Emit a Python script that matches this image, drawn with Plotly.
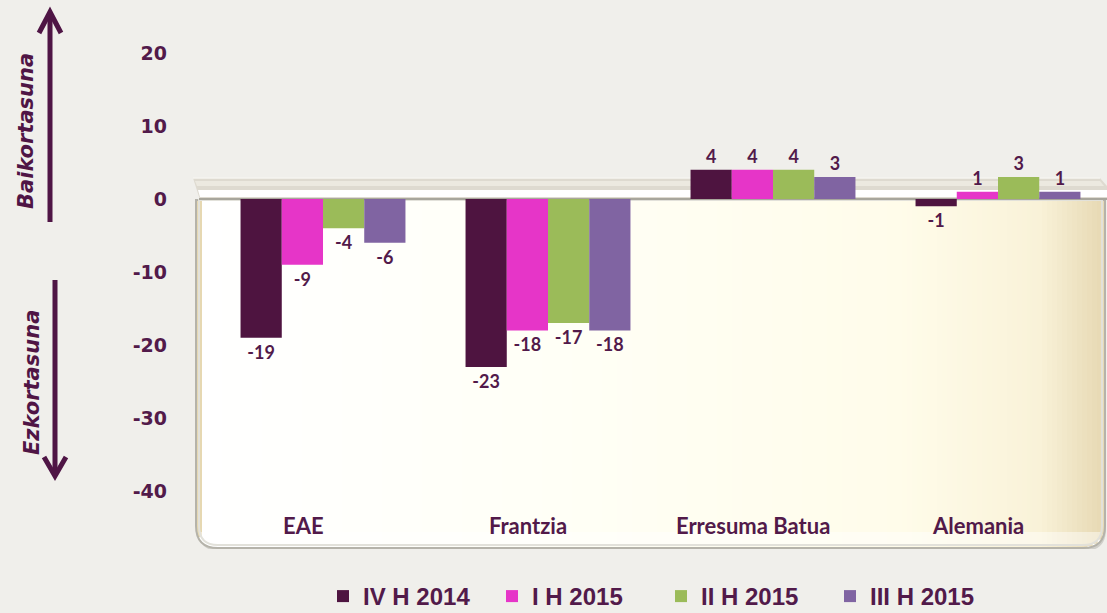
import math
import plotly.graph_objects as go

categories = ["EAE", "Frantzia", "Erresuma Batua", "Alemania"]
series_names = ["IV H 2014", "I H 2015", "II H 2015", "III H 2015"]
iv_h_2014 = [-19, -23, 4, -1]
i_h_2015 = [-9, -18, 4, 1]
ii_h_2015 = [-4, -17, 4, 3]
iii_h_2015 = [-6, -18, 3, 1]
series_values = [iv_h_2014, i_h_2015, ii_h_2015, iii_h_2015]
colors = ["#4e1440", "#e635c8", "#9bbb59", "#8064a2"]
y_ticks = [20, 10, 0, -10, -20, -30, -40]

W, H = 1107, 613
ML, MR, MT, MB = 188, 0, 9, 64
X0_PX, X_SCALE = 323.0, 225.0       # px of category 0, px per category
Y0_PX, Y_SCALE = 199.0, 7.3         # px of value 0, px per unit
x_range = [(ML - X0_PX) / X_SCALE, (W - MR - X0_PX) / X_SCALE]
y_range = [(Y0_PX - (H - MB)) / Y_SCALE, (Y0_PX - MT) / Y_SCALE]

TXT = "#521a4a"

def dx(px):
    return (px - X0_PX) / X_SCALE

def dy(py):
    return (Y0_PX - py) / Y_SCALE

def ppx(px):
    return (px - ML) / (W - ML - MR)

def ppy(py):
    return ((H - MB) - py) / (H - MT - MB)

fig = go.Figure()
xs = list(range(len(categories)))
for name, vals, col in zip(series_names, series_values, colors):
    fig.add_trace(go.Bar(
        x=xs, y=vals, name=name,
        marker=dict(color=col, line=dict(width=0)),
        text=[str(v) for v in vals], texttemplate="%{text}", textposition="outside",
        outsidetextfont=dict(family="Lato", size=18, color=TXT, weight="bold"),
        cliponaxis=False, hoverinfo="skip",
    ))

shapes = []
# wall box (rounded bottom corners)
L, R, T, B, r = 196, 1105, 200, 548, 22
def box_path(l, rr, t, b, rad):
    return (f"M {dx(l)} {dy(t)} L {dx(rr)} {dy(t)} L {dx(rr)} {dy(b - rad)} "
            f"Q {dx(rr)} {dy(b)} {dx(rr - rad)} {dy(b)} L {dx(l + rad)} {dy(b)} "
            f"Q {dx(l)} {dy(b)} {dx(l)} {dy(b - rad)} Z")
# soft shadow under the box
shapes.append(dict(type="path", path=box_path(L + 2, R + 1, T + 4, B + 3, r), xref="x", yref="y",
                   fillcolor="rgba(150,148,140,0.35)", line=dict(width=0), layer="below"))
shapes.append(dict(type="path", path=box_path(L, R, T, B, r), xref="x", yref="y",
                   fillcolor="#fffffd", line=dict(width=0), layer="below"))

# horizontal cream gradient, stripes clipped to rounded corners
def lerp(c1, c2, t):
    return tuple(int(round(a + (b - a) * t)) for a, b in zip(c1, c2))
stops = [(200, (255, 255, 255)), (560, (255, 255, 246)), (900, (255, 252, 234)),
         (1040, (249, 242, 216)), (1105, (230, 216, 178))]
def grad(px):
    for (p1, c1), (p2, c2) in zip(stops, stops[1:]):
        if p1 <= px <= p2:
            return lerp(c1, c2, (px - p1) / (p2 - p1))
    return stops[-1][1]
step = 5
px = L + 1
while px < R - 1:
    x1, x2 = px, min(px + step, R - 1)
    xm = (x1 + x2) / 2
    bot = B - 1
    if xm > R - r:
        d = xm - (R - r)
        bot = B - r + math.sqrt(max(r * r - d * d, 0)) - 1
    elif xm < L + r:
        d = (L + r) - xm
        bot = B - r + math.sqrt(max(r * r - d * d, 0)) - 1
    c = grad(xm)
    shapes.append(dict(type="rect", xref="x", yref="y", x0=dx(x1), x1=dx(x2 + 0.6),
                       y0=dy(T), y1=dy(bot), fillcolor=f"rgb{c}",
                       line=dict(width=0), layer="below"))
    px += step

# bottom inner highlight
shapes.append(dict(type="path", path=box_path(L + 3, R - 3, 532, B - 3, r - 4), xref="x", yref="y",
                   fillcolor="rgba(255,255,255,0.45)", line=dict(width=0), layer="below"))
# box outline
shapes.append(dict(type="path", path=box_path(L, R, T, B, r), xref="x", yref="y",
                   fillcolor="rgba(0,0,0,0)", line=dict(color="#b5b3aa", width=2), layer="below"))
shapes.append(dict(type="path", path=box_path(L + 3, R - 3, T, B - 3, r - 3), xref="x", yref="y",
                   fillcolor="rgba(0,0,0,0)", line=dict(color="#e2e1da", width=2), layer="below"))
# top bevel
shapes.append(dict(type="path", xref="x", yref="y",
                   path=f"M {dx(193)} {dy(178)} L {dx(1100)} {dy(178)} L {dx(1107)} {dy(186)} "
                        f"L {dx(1107)} {dy(200)} L {dx(200)} {dy(200)} Z",
                   fillcolor="#dedad0", line=dict(width=0), layer="below"))
shapes.append(dict(type="path", xref="x", yref="y",
                   path=f"M {dx(195)} {dy(181)} L {dx(1100)} {dy(181)} L {dx(1104)} {dy(186)} "
                        f"L {dx(197)} {dy(186)} Z",
                   fillcolor="#ece9e0", line=dict(width=0), layer="below"))
shapes.append(dict(type="path", xref="x", yref="y",
                   path=f"M {dx(198)} {dy(190)} L {dx(1107)} {dy(190)} L {dx(1107)} {dy(197)} "
                        f"L {dx(200)} {dy(197)} Z",
                   fillcolor="#ffffff", line=dict(width=0), layer="below"))
shapes.append(dict(type="line", xref="x", yref="y", x0=dx(199), x1=dx(1107), y0=dy(199), y1=dy(199),
                   line=dict(color="#a8a69c", width=2), layer="below"))
shapes.append(dict(type="line", xref="x", yref="y", x0=dx(193), x1=dx(1100), y0=dy(178), y1=dy(178),
                   line=dict(color="#f6f5f0", width=1.5), layer="below"))

# direction arrows (paper coords)
ARROW = "#4f1545"
def pline(pts):
    return "M " + " L ".join(f"{ppx(a)} {ppy(b)}" for a, b in pts)
shapes.append(dict(type="path", xref="paper", yref="paper", path=pline([(50, 222), (50, 14)]),
                   line=dict(color=ARROW, width=5)))
shapes.append(dict(type="path", xref="paper", yref="paper", path=pline([(39, 33), (50, 12), (61, 33)]),
                   line=dict(color=ARROW, width=5)))
shapes.append(dict(type="path", xref="paper", yref="paper", path=pline([(55, 280), (55, 474)]),
                   line=dict(color=ARROW, width=5)))
shapes.append(dict(type="path", xref="paper", yref="paper", path=pline([(44, 457), (55, 476), (66, 457)]),
                   line=dict(color=ARROW, width=5)))

annotations = []
for i, cat in enumerate(categories):
    annotations.append(dict(x=i, y=dy(525), xref="x", yref="y", text=cat, showarrow=False,
                            xanchor="center", yanchor="middle",
                            xshift=-20, font=dict(family="Lato", size=22, color=TXT, weight="bold")))
annotations.append(dict(x=ppx(26), y=ppy(131), xref="paper", yref="paper", text="<i>Baikortasuna</i>",
                        textangle=-90, showarrow=False, xanchor="center", yanchor="middle",
                        font=dict(family="DejaVu Sans", size=21, color=ARROW, weight="bold")))
annotations.append(dict(x=ppx(32), y=ppy(383), xref="paper", yref="paper", text="<i>Ezkortasuna</i>",
                        textangle=-90, showarrow=False, xanchor="center", yanchor="middle",
                        font=dict(family="DejaVu Sans", size=21, color=ARROW, weight="bold")))

fig.update_layout(
    width=W, height=H,
    margin=dict(l=ML, r=MR, t=MT, b=MB, autoexpand=False),
    paper_bgcolor="#f0efeb", plot_bgcolor="rgba(0,0,0,0)",
    barmode="group", bargap=0.267, bargroupgap=0,
    showlegend=True,
    legend=dict(orientation="h", x=ppx(323), y=ppy(619), xanchor="left", yanchor="bottom",
                font=dict(family="Liberation Sans", size=24, color=TXT, weight="bold"),
                entrywidth=124, entrywidthmode="pixels", bgcolor="rgba(0,0,0,0)",
                borderwidth=0),
    xaxis=dict(range=x_range, showticklabels=False, showgrid=False, zeroline=False,
               showline=False, ticks="", fixedrange=True),
    yaxis=dict(range=y_range, tickvals=y_ticks, ticktext=[str(v) for v in y_ticks],
               showgrid=False, zeroline=False, showline=False, ticks="",
               ticklabelstandoff=20, fixedrange=True,
               tickfont=dict(family="DejaVu Sans", size=19, color=TXT, weight="bold")),
    shapes=shapes, annotations=annotations,
)
fig.write_html("out.html", config={"displayModeBar": False},
               post_script="document.body.style.margin='0';document.body.style.overflow='hidden';")
